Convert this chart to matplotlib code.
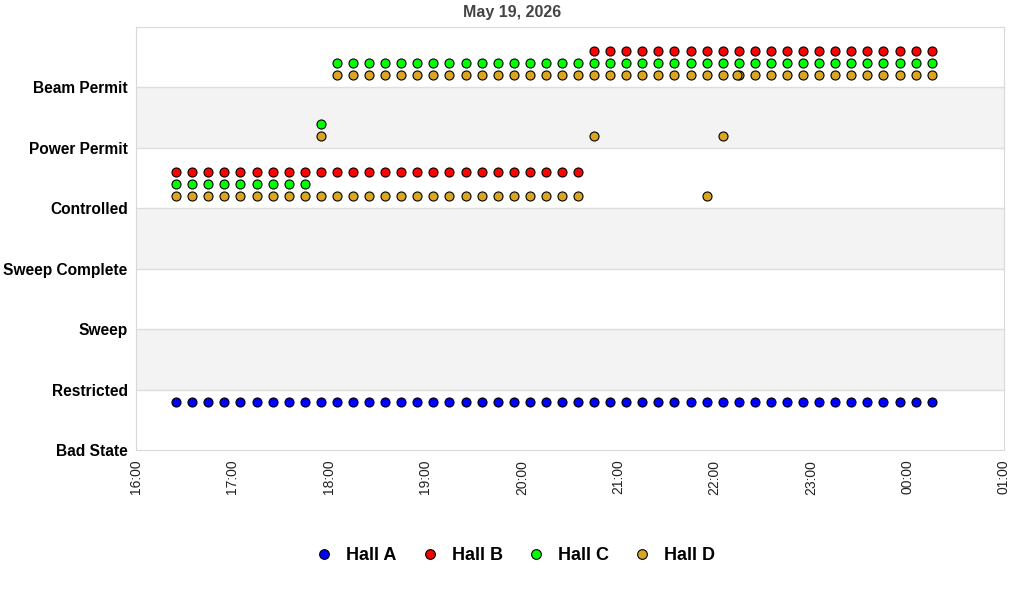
import matplotlib
matplotlib.use("Agg")
import matplotlib.pyplot as plt
import matplotlib.dates as mdates
from datetime import datetime, timedelta

plt.rcParams['font.family'] = ['Liberation Sans', 'DejaVu Sans']

# state names (y levels 0..6)
states = ["Bad State", "Restricted", "Sweep", "Sweep Complete",
          "Controlled", "Power Permit", "Beam Permit"]

# sample times (10 minute readings)
times = ["16:25", "16:35", "16:45", "16:55", "17:05", "17:15", "17:25", "17:35", "17:45", "17:55", "18:05", "18:15",
         "18:25", "18:35", "18:45", "18:55", "19:05", "19:15", "19:25", "19:35", "19:45", "19:55", "20:05", "20:15",
         "20:25", "20:35", "20:45", "20:55", "21:05", "21:15", "21:25", "21:35", "21:45", "21:55", "22:05", "22:15",
         "22:25", "22:35", "22:45", "22:55", "23:05", "23:15", "23:25", "23:35", "23:45", "23:55", "00:05", "00:15"]

N = None
hall_a = [1, 1, 1, 1, 1, 1, 1, 1, 1, 1, 1, 1,
          1, 1, 1, 1, 1, 1, 1, 1, 1, 1, 1, 1,
          1, 1, 1, 1, 1, 1, 1, 1, 1, 1, 1, 1,
          1, 1, 1, 1, 1, 1, 1, 1, 1, 1, 1, 1]
hall_b = [4, 4, 4, 4, 4, 4, 4, 4, 4, 4, 4, 4,
          4, 4, 4, 4, 4, 4, 4, 4, 4, 4, 4, 4,
          4, 4, 6, 6, 6, 6, 6, 6, 6, 6, 6, 6,
          6, 6, 6, 6, 6, 6, 6, 6, 6, 6, 6, 6]
hall_c = [4, 4, 4, 4, 4, 4, 4, 4, 4, 5, 6, 6,
          6, 6, 6, 6, 6, 6, 6, 6, 6, 6, 6, 6,
          6, 6, 6, 6, 6, 6, 6, 6, 6, 6, 6, 6,
          6, 6, 6, 6, 6, 6, 6, 6, 6, 6, 6, 6]
hall_d = [4, 4, 4, 4, 4, 4, 4, 4, 4, 4, 4, 4,
          4, 4, 4, 4, 4, 4, 4, 4, 4, 4, 4, 4,
          4, 4, N, N, N, N, N, N, N, N, N, N,
          N, N, N, N, N, N, N, N, N, N, N, N]
hall_d2 = [N, N, N, N, N, N, N, N, N, N, 6, 6,
           6, 6, 6, 6, 6, 6, 6, 6, 6, 6, 6, 6,
           6, 6, 6, 6, 6, 6, 6, 6, 6, 6, 6, 6,
           6, 6, 6, 6, 6, 6, 6, 6, 6, 6, 6, 6]
# extra (off-cycle) readings for Hall D
hall_d_extra_t = ["17:55", "20:45", "21:55", "22:05", "22:14"]
hall_d_extra_s = [5, 5, 4, 5, 6]

halls = ["Hall A", "Hall B", "Hall C", "Hall D"]
colors = ["#0000ff", "#ff0000", "#00ff00", "#daa520"]
offsets = [-0.2, 0.6, 0.4, 0.2]

day = datetime(2026, 5, 19)


def to_dt(s):
    h, m = map(int, s.split(":"))
    d = day + timedelta(hours=h, minutes=m)
    if h < 12:
        d += timedelta(days=1)
    return d


fig = plt.figure(figsize=(10.24, 6), dpi=100)
ax = fig.add_axes([136 / 1024, 150 / 600, 868 / 1024, 423 / 600])

# alternating bands
for lo in [1, 3, 5]:
    ax.axhspan(lo, lo + 1, color="#f3f3f3", zorder=0, lw=0)
for y in range(1, 7):
    ax.axhline(y, color="#dddddd", lw=1, zorder=1)

series = [(hall_a, 0), (hall_b, 1), (hall_c, 2), (hall_d, 3), (hall_d2, 3)]
for vals, k in series:
    xs = [to_dt(t) for t, v in zip(times, vals) if v is not None]
    ys = [v + offsets[k] for v in vals if v is not None]
    ax.plot(xs, ys, 'o', ms=6.5, mfc=colors[k], mec='black', mew=0.8, zorder=3)

xs = [to_dt(t) for t in hall_d_extra_t]
ys = [v + offsets[3] for v in hall_d_extra_s]
ax.plot(xs, ys, 'o', ms=6.5, mfc=colors[3], mec='black', mew=0.8, zorder=3)

ax.set_xlim(day + timedelta(hours=16), day + timedelta(hours=25))
ax.set_ylim(0, 7)
ax.set_yticks(range(7))
ax.set_yticklabels(states, fontsize=11.2, fontweight='bold')
ax.xaxis.set_major_locator(mdates.HourLocator())
ax.xaxis.set_major_formatter(mdates.DateFormatter("%H:%M"))
plt.setp(ax.get_xticklabels(), rotation=90, fontsize=10, color="#222222")
ax.tick_params(axis='y', length=0, pad=6)
ax.tick_params(axis='x', length=0, pad=7)
for sp in ax.spines.values():
    sp.set_color("#d9d9d9")

fig.text(0.5, 1 - 13 / 600, "May 19, 2026", ha='center', va='center',
         fontsize=11.5, fontweight='bold', color="#444444")

handles = [plt.Line2D([], [], ls='', marker='o', ms=7, mfc=c, mec='black', mew=0.8)
           for c in colors]
fig.legend(handles, halls, loc='center', bbox_to_anchor=(0.503, 1 - 556 / 600), ncol=4,
           frameon=False, prop={'size': 13, 'weight': 'bold'}, handletextpad=0.7,
           columnspacing=1.35, handlelength=1.0)

fig.savefig("out.png", dpi=100)
